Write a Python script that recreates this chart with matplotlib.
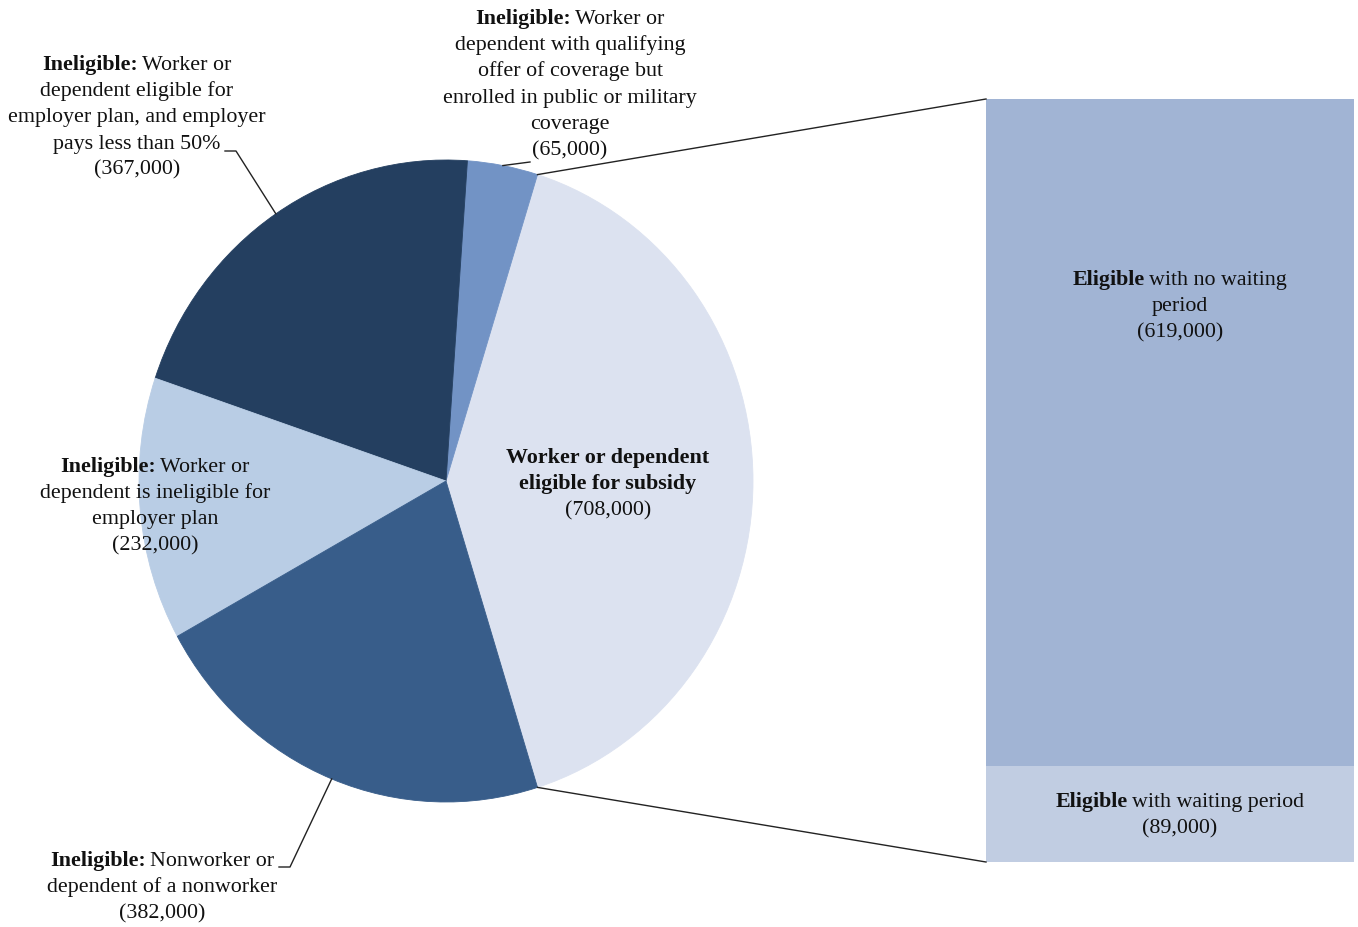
'''
Pie-of-bar: workers/dependents by eligibility, with subsidy-eligible split.
'''
import numpy as np
import matplotlib.pyplot as plt

plt.rcParams['font.family'] = ['Liberation Serif', 'DejaVu Serif']

W, H = 1358, 928          # figure size in pixels (dpi 100)
FS = 15.8                 # label font size
STEP = 26.2               # line step of labels in px

# ---------------- data ----------------
slice_names = ['Eligible for subsidy', 'Public or military coverage',
               'Employer pays less than 50%', 'Ineligible for employer plan',
               'Nonworker or dependent of a nonworker']
slice_values = [708000, 65000, 367000, 232000, 382000]
slice_colors = ['#DCE2F0', '#7293C5', '#243F60', '#B9CDE5', '#385D8A']

bar_names = ['Eligible with waiting period', 'Eligible with no waiting period']
bar_values = [89000, 619000]
bar_colors = ['#C1CDE2', '#A1B4D4']

B, N = 'bold', 'normal'
slice_labels = [
    [[('Worker or dependent', B)], [('eligible for subsidy', B)], [('(708,000)', N)]],
    [[('Ineligible:', B), ('Worker or', N)], [('dependent with qualifying', N)],
     [('offer of coverage but', N)], [('enrolled in public or military', N)],
     [('coverage', N)], [('(65,000)', N)]],
    [[('Ineligible:', B), ('Worker or', N)], [('dependent eligible for', N)],
     [('employer plan, and employer', N)], [('pays less than 50%', N)],
     [('(367,000)', N)]],
    [[('Ineligible:', B), ('Worker or', N)], [('dependent is ineligible for', N)],
     [('employer plan', N)], [('(232,000)', N)]],
    [[('Ineligible:', B), ('Nonworker or', N)], [('dependent of a nonworker', N)],
     [('(382,000)', N)]],
]
bar_labels = [
    [[('Eligible', B), ('with waiting period', N)], [('(89,000)', N)]],
    [[('Eligible', B), ('with no waiting', N)], [('period', N)], [('(619,000)', N)]],
]

# ---------------- layout (pixels from top-left) ----------------
CX, CY, RX, RY = 446, 482, 307, 321          # pie ellipse
BX0, BX1, BY0, BY1 = 986, 1354, 100, 863     # bar box
slice_label_pos = [(608, 457), (570, 18), (137, 64), (155, 466), (162, 860)]
bar_label_pos = [(1180, 801), (1180, 279)]

fig = plt.figure(figsize=(W / 100, H / 100), dpi=100)

# pie
pax = fig.add_axes([(CX - RX) / W, (H - CY - RY) / H, 2 * RX / W, 2 * RY / H])
start = -360 * slice_values[0] / sum(slice_values) / 2
wedges, _ = pax.pie(slice_values, colors=slice_colors, startangle=start,
                    counterclock=True, radius=1)
for w in wedges:
    w.set_edgecolor(w.get_facecolor())
    w.set_linewidth(0.6)
pax.set_aspect('auto')
pax.set_xlim(-1, 1)
pax.set_ylim(-1, 1)
pax.axis('off')

# bar
bax = fig.add_axes([BX0 / W, (H - BY1) / H, (BX1 - BX0) / W, (BY1 - BY0) / H])
bottom = 0
for v, c in zip(bar_values, bar_colors):
    bax.bar(0.5, v, width=1, bottom=bottom, color=c, linewidth=0)
    bottom += v
bax.set_xlim(0, 1)
bax.set_ylim(0, sum(bar_values))
bax.axis('off')

# overlay in pixel coordinates (y down)
ax = fig.add_axes([0, 0, 1, 1], zorder=5)
ax.set_xlim(0, W)
ax.set_ylim(H, 0)
ax.axis('off')
renderer = fig.canvas.get_renderer()
gap = 0.18 * FS * 100 / 72


def edge_point(theta):
    t = np.deg2rad(theta)
    return CX + RX * np.cos(t), CY - RY * np.sin(t)


def put_label(x, y0, lines):
    for i, line in enumerate(lines):
        y = y0 + i * STEP + 6
        arts = [ax.text(0, y, s, fontsize=FS, fontweight=wt, ha='left',
                        va='baseline', color='#111111') for s, wt in line]
        widths = [a.get_window_extent(renderer).width for a in arts]
        left = x - (sum(widths) + gap * (len(arts) - 1)) / 2
        for a, wd in zip(arts, widths):
            a.set_x(left)
            left += wd + gap


for (x, y), lab in zip(slice_label_pos, slice_labels):
    put_label(x, y, lab)
for (x, y), lab in zip(bar_label_pos, bar_labels):
    put_label(x, y, lab)

# connectors pie -> bar
lc = '#222222'
p_top = edge_point(wedges[0].theta2)
p_bot = edge_point(wedges[0].theta1)
ax.plot([p_top[0], BX0], [p_top[1], BY0], color=lc, lw=1)
ax.plot([p_bot[0], BX0], [p_bot[1], BY1], color=lc, lw=1)

# leader lines
mid = lambda w: (w.theta1 + w.theta2) / 2
p = edge_point(mid(wedges[1]))
ax.plot([p[0], 530], [p[1], 163], color=lc, lw=1)
p = edge_point(mid(wedges[2]))
ax.plot([225, 236, p[0]], [152, 152, p[1]], color=lc, lw=1)
p = edge_point(mid(wedges[4]))
ax.plot([279, 290, p[0]], [868, 868, p[1]], color=lc, lw=1)

fig.savefig('out.png', dpi=100)
